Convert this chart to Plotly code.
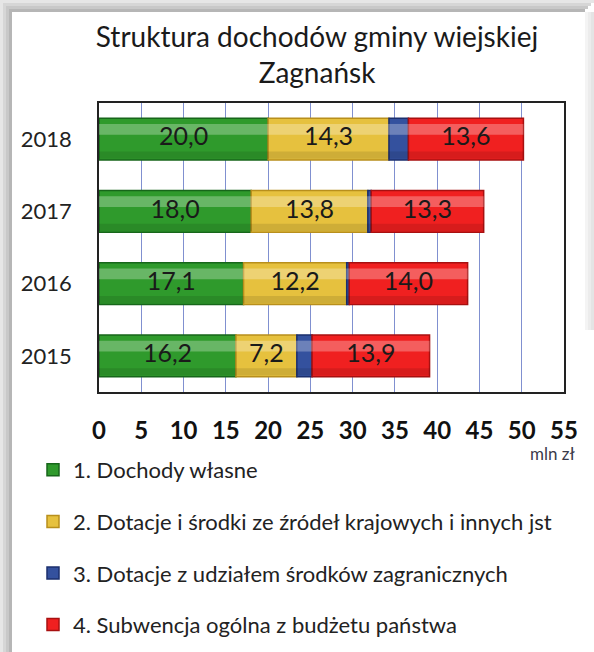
import plotly.graph_objects as go

years = ["2015", "2016", "2017", "2018"]
series_names = [
    "1. Dochody własne",
    "2. Dotacje i środki ze źródeł krajowych i innych jst",
    "3. Dotacje z udziałem środków zagranicznych",
    "4. Subwencja ogólna z budżetu państwa",
]
dochody_wlasne = [16.2, 17.1, 18.0, 20.0]
dotacje_krajowe = [7.2, 12.2, 13.8, 14.3]
dotacje_zagraniczne = [1.8, 0.3, 0.4, 2.3]
subwencja = [13.9, 14.0, 13.3, 13.6]
x_ticks = [0, 5, 10, 15, 20, 25, 30, 35, 40, 45, 50, 55]

fills = ["#2f9a2c", "#e6c13e", "#34519e", "#f02020"]
edges = ["#17661a", "#b88f1c", "#1b2f6e", "#a81010"]
show_text = [True, True, False, True]
values = [dochody_wlasne, dotacje_krajowe, dotacje_zagraniczne, subwencja]

W, H = 594, 652
L, R, T, B = 99, 30, 103, 260
FONT = "Lato"
BAR_W = 0.58

# cumulative bases for stacking
bases = []
run = [0.0] * len(years)
for vals in values:
    bases.append(list(run))
    run = [a + b for a, b in zip(run, vals)]

fig = go.Figure()
for i, (name, vals) in enumerate(zip(series_names, values)):
    fig.add_trace(go.Bar(
        y=years, x=vals, base=bases[i], name=name, orientation="h",
        legendgroup="g%d" % i, width=BAR_W,
        marker=dict(color=fills[i], line=dict(color=edges[i], width=1.5)),
        hoverinfo="skip",
    ))
# gloss highlight and bottom shade
for i, vals in enumerate(values):
    fig.add_trace(go.Bar(
        y=years, x=vals, base=bases[i], orientation="h", showlegend=False,
        legendgroup="g%d" % i, width=0.15, offset=0.06,
        marker=dict(color="rgba(255,255,255,0.28)", line=dict(width=0)),
        hoverinfo="skip",
    ))
    fig.add_trace(go.Bar(
        y=years, x=vals, base=bases[i], orientation="h", showlegend=False,
        legendgroup="g%d" % i, width=0.1, offset=-0.27,
        marker=dict(color="rgba(0,0,0,0.10)", line=dict(width=0)),
        hoverinfo="skip",
    ))
# data labels
for i, vals in enumerate(values):
    if not show_text[i]:
        continue
    fig.add_trace(go.Scatter(
        y=years, x=[b + v / 2 for b, v in zip(bases[i], vals)],
        mode="text", text=[("%.1f" % v).replace(".", ",") for v in vals],
        textposition="middle center", showlegend=False, legendgroup="g%d" % i,
        textfont=dict(family=FONT, size=25, color="#1a1a1a"),
        cliponaxis=False, hoverinfo="skip",
    ))

pw, ph = W - L - R, H - T - B
def px_x(v):
    return (v - L) / pw
def px_y(v):
    return 1 - (v - T) / ph

shapes = []
bands = [(0, "#e6e6e6"), (3, "#d6d6d6"), (6, "#c8c8c8"), (9, "#b6b6b6")]
for off, col in bands:
    shapes.append(dict(type="rect", xref="paper", yref="paper",
                       x0=px_x(off), x1=px_x(W - off), y0=px_y(off), y1=px_y(off + 3),
                       line=dict(width=0), fillcolor=col, layer="below"))
    shapes.append(dict(type="rect", xref="paper", yref="paper",
                       x0=px_x(off), x1=px_x(off + 3), y0=px_y(H), y1=px_y(off),
                       line=dict(width=0), fillcolor=col, layer="below"))
for off, col in [(0, "#e4e4e4"), (3, "#ececec"), (6, "#f4f4f4")]:
    shapes.append(dict(type="rect", xref="paper", yref="paper",
                       x0=px_x(W - off - 3), x1=px_x(W - off), y0=px_y(330), y1=px_y(12),
                       line=dict(width=0), fillcolor=col, layer="below"))

fig.update_layout(
    width=W, height=H,
    margin=dict(l=L, r=R, t=T, b=B, autoexpand=False),
    paper_bgcolor="white", plot_bgcolor="white",
    barmode="overlay",
    separators=", ",
    font=dict(family=FONT, color="#1a1a1a"),
    title=dict(text="Struktura dochodów gminy wiejskiej<br>Zagnańsk",
               x=317 / W, xanchor="center", y=1 - 47 / H, yanchor="top",
               xref="container", yref="container",
               font=dict(family=FONT, size=28, color="#1a1a1a")),
    xaxis=dict(range=[0, 55], tickvals=x_ticks, ticktext=[str(v) for v in x_ticks],
               showgrid=True, gridcolor="#8090d0", gridwidth=1,
               showline=True, linecolor="#222222", linewidth=1.5, mirror=True,
               zeroline=False, ticks="", ticklabelstandoff=16, automargin=False,
               tickfont=dict(family=FONT, size=24, color="#111111", weight="bold")),
    yaxis=dict(categoryorder="array", categoryarray=years,
               showline=True, linecolor="#222222", linewidth=1.5, mirror=True,
               showgrid=False, ticks="", ticklabelstandoff=21, automargin=False,
               tickfont=dict(family=FONT, size=22, color="#222222")),
    legend=dict(xref="container", yref="container", x=33 / W, y=1 - 449 / H,
                xanchor="left", yanchor="top", traceorder="grouped",
                tracegroupgap=20, itemwidth=30,
                font=dict(family=FONT, size=22, color="#222222"),
                bgcolor="rgba(0,0,0,0)"),
    annotations=[dict(text="mln zł", xref="paper", yref="paper",
                      x=px_x(553), y=px_y(453), xanchor="center", yanchor="middle",
                      showarrow=False, font=dict(family=FONT, size=17, color="#3a3a4a"))],
    shapes=shapes,
)

fig.write_html("out.html", config={"displayModeBar": False},
               post_script="document.body.style.margin='0';")
